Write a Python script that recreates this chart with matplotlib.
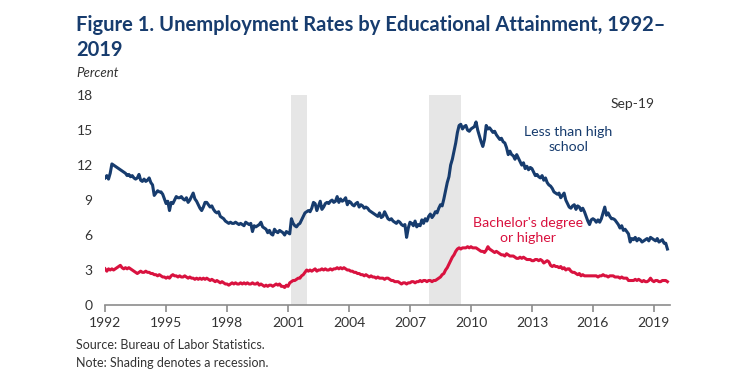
import numpy as np
import matplotlib.pyplot as plt

# monthly unemployment rates (percent), Jan 1992 - Sep 2019
less_than_hs = [
    10.9, 11.1, 10.8, 11.3, 12.1, 12.0, 11.9, 11.8, 11.7, 11.6, 11.5, 11.4,  # 1992
    11.3, 11.1, 11.2, 11.0, 11.1, 10.9, 10.8, 10.9, 11.2, 10.7, 10.6, 10.8,  # 1993
    10.6, 10.7, 10.9, 10.5, 10.3, 9.4, 9.6, 9.8, 9.7, 9.7, 9.5, 9.1,         # 1994
    8.7, 8.9, 8.1, 8.8, 8.7, 9.0, 9.3, 9.2, 9.2, 9.3, 9.1, 9.0,              # 1995
    9.2, 8.8, 9.0, 9.3, 9.6, 9.1, 8.9, 8.6, 8.3, 8.1, 8.4, 8.8,              # 1996
    8.8, 8.6, 8.4, 8.5, 8.2, 8.0, 7.9, 8.0, 7.6, 7.5, 7.4, 7.2,              # 1997
    7.1, 7.0, 7.1, 7.0, 7.0, 7.1, 7.0, 6.9, 7.0, 6.9, 6.8, 7.1,              # 1998
    7.0, 6.9, 7.0, 6.3, 6.8, 6.7, 6.8, 6.9, 7.1, 6.7, 6.6, 6.5,              # 1999
    6.2, 6.4, 6.1, 6.0, 6.5, 6.3, 6.2, 6.4, 6.3, 6.2, 6.0, 6.3,              # 2000
    6.2, 6.1, 7.4, 7.0, 6.8, 6.7, 6.9, 7.0, 7.3, 7.6, 7.9, 8.0,              # 2001
    8.1, 8.0, 8.3, 8.8, 8.7, 8.1, 8.5, 8.9, 8.2, 8.4, 8.7, 8.8,              # 2002
    8.7, 8.9, 9.0, 8.8, 8.9, 9.3, 8.8, 9.1, 8.9, 9.0, 9.2, 8.6,              # 2003
    8.9, 8.8, 8.6, 8.5, 8.7, 8.8, 8.4, 8.6, 8.5, 8.3, 8.4, 8.3,              # 2004
    8.1, 8.0, 7.9, 7.8, 7.7, 7.6, 7.9, 7.5, 7.6, 8.0, 7.7, 7.4,              # 2005
    7.3, 7.4, 7.2, 7.1, 7.0, 7.2, 7.1, 6.9, 6.8, 6.9, 5.8, 6.6,              # 2006
    7.1, 7.0, 6.8, 7.2, 6.7, 6.9, 6.8, 7.3, 7.0, 7.4, 7.2, 7.6,              # 2007
    7.8, 7.5, 7.7, 8.0, 7.9, 8.3, 8.6, 8.5, 9.1, 9.8, 10.5, 11.0,            # 2008
    12.0, 12.5, 13.2, 13.9, 14.8, 15.4, 15.5, 15.1, 15.3, 15.4, 15.0, 14.9,  # 2009
    15.1, 15.2, 15.3, 15.7, 15.0, 14.5, 14.0, 13.6, 14.2, 15.4, 15.1, 15.2,  # 2010
    15.0, 14.8, 14.9, 14.6, 14.4, 14.2, 14.3, 14.0, 13.9, 13.5, 12.9, 13.2,  # 2011
    12.9, 12.8, 12.5, 12.9, 12.6, 12.3, 12.0, 12.2, 11.7, 11.9, 11.6, 11.8,  # 2012
    11.7, 11.4, 11.1, 11.2, 11.0, 10.9, 11.1, 10.7, 10.9, 10.5, 10.3, 10.2,  # 2013
    10.0, 9.7, 9.6, 9.5, 9.6, 9.2, 9.4, 9.6, 9.0, 8.7, 8.4, 8.3,             # 2014
    8.5, 8.6, 8.2, 8.5, 8.4, 8.1, 8.3, 8.0, 7.6, 7.2, 6.9, 7.3,              # 2015
    7.4, 7.3, 7.1, 7.3, 7.1, 7.4, 7.9, 8.4, 7.7, 7.9, 7.6, 7.4,              # 2016
    7.4, 7.3, 7.1, 6.9, 6.6, 6.8, 6.4, 6.5, 6.3, 6.1, 5.4, 5.7,              # 2017
    5.6, 5.8, 5.5, 5.7, 5.6, 5.4, 5.5, 5.6, 5.7, 5.5, 5.8, 5.7,              # 2018
    5.6, 5.5, 5.7, 5.4, 5.5, 5.6, 5.3, 5.3, 4.8,                             # 2019
]

bachelors = [
    3.1, 2.9, 3.1, 3.0, 3.1, 3.0, 3.1, 3.2, 3.3, 3.4, 3.2, 3.1,  # 1992
    3.2, 3.1, 3.2, 3.1, 3.0, 2.9, 2.8, 2.7, 2.8, 2.9, 2.8, 2.8,  # 1993
    2.9, 2.8, 2.8, 2.7, 2.7, 2.6, 2.6, 2.5, 2.6, 2.5, 2.4, 2.4,  # 1994
    2.3, 2.4, 2.3, 2.5, 2.6, 2.5, 2.5, 2.4, 2.5, 2.4, 2.4, 2.5,  # 1995
    2.4, 2.3, 2.4, 2.3, 2.3, 2.2, 2.3, 2.2, 2.3, 2.2, 2.3, 2.2,  # 1996
    2.3, 2.2, 2.1, 2.2, 2.1, 2.0, 2.1, 2.0, 1.9, 2.0, 1.9, 1.8,  # 1997
    1.8, 1.7, 1.8, 1.9, 1.8, 1.9, 1.8, 1.8, 1.9, 1.8, 1.9, 1.8,  # 1998
    1.9, 1.8, 1.8, 1.9, 1.8, 1.8, 1.9, 1.7, 1.8, 1.7, 1.6, 1.7,  # 1999
    1.6, 1.7, 1.7, 1.6, 1.7, 1.8, 1.7, 1.8, 1.6, 1.6, 1.5, 1.7,  # 2000
    1.6, 1.9, 2.0, 2.1, 2.1, 2.2, 2.3, 2.3, 2.5, 2.6, 2.8, 3.0,  # 2001
    2.9, 3.0, 2.9, 3.0, 3.1, 2.9, 3.0, 3.0, 3.1, 3.0, 3.1, 3.0,  # 2002
    3.0, 3.1, 3.0, 3.1, 3.1, 3.2, 3.1, 3.2, 3.1, 3.2, 3.1, 3.0,  # 2003
    3.0, 2.9, 2.9, 2.8, 2.8, 2.7, 2.7, 2.6, 2.6, 2.5, 2.6, 2.5,  # 2004
    2.4, 2.5, 2.4, 2.4, 2.3, 2.4, 2.3, 2.3, 2.3, 2.2, 2.3, 2.3,  # 2005
    2.2, 2.1, 2.1, 2.0, 2.0, 2.0, 1.9, 1.8, 1.9, 1.9, 1.8, 1.9,  # 2006
    1.9, 2.0, 2.0, 1.9, 2.0, 2.0, 2.1, 2.0, 2.1, 2.1, 2.0, 2.1,  # 2007
    2.1, 2.0, 2.1, 2.1, 2.2, 2.3, 2.4, 2.6, 2.7, 3.0, 3.2, 3.5,  # 2008
    3.8, 4.1, 4.3, 4.6, 4.8, 4.9, 4.8, 4.9, 4.9, 4.9, 5.0, 4.9,  # 2009
    5.0, 4.9, 4.9, 4.9, 4.8, 4.7, 4.6, 4.6, 4.5, 4.7, 5.0, 4.8,  # 2010
    4.7, 4.6, 4.5, 4.6, 4.5, 4.4, 4.3, 4.3, 4.2, 4.4, 4.3, 4.2,  # 2011
    4.2, 4.2, 4.1, 4.0, 4.0, 4.1, 4.0, 4.1, 4.0, 3.9, 3.9, 3.9,  # 2012
    3.8, 3.8, 3.9, 3.9, 3.8, 3.9, 3.8, 3.6, 3.7, 3.8, 3.7, 3.4,  # 2013
    3.3, 3.4, 3.3, 3.3, 3.2, 3.3, 3.1, 3.2, 3.0, 3.1, 3.1, 2.9,  # 2014
    2.8, 2.8, 2.7, 2.6, 2.7, 2.5, 2.6, 2.5, 2.5, 2.5, 2.5, 2.5,  # 2015
    2.5, 2.5, 2.5, 2.4, 2.5, 2.5, 2.6, 2.5, 2.5, 2.4, 2.5, 2.5,  # 2016
    2.5, 2.4, 2.4, 2.4, 2.3, 2.4, 2.3, 2.3, 2.3, 2.1, 2.1, 2.1,  # 2017
    2.1, 2.2, 2.1, 2.2, 2.1, 2.0, 2.1, 2.0, 2.0, 2.1, 2.3, 2.1,  # 2018
    2.0, 2.1, 2.1, 2.0, 2.0, 2.1, 2.1, 2.1, 2.0,                 # 2019
]

start_year = 1992
recessions = [(2001 + 2/12, 2001 + 11/12), (2007 + 11/12, 2009 + 6/12)]
year_ticks = list(range(1992, 2020, 3))
y_ticks = [0, 3, 6, 9, 12, 15, 18]

BLUE = "#173c6e"
RED = "#d9123f"
FONT = ["Lato", "DejaVu Sans"]

plt.rcParams['font.family'] = FONT

months = np.arange(len(less_than_hs))
t = start_year + months / 12.0

fig = plt.figure(figsize=(7.3, 3.9), dpi=100)
ax = fig.add_axes([0.144, 0.218, 0.774, 0.538])

for a, b in recessions:
    ax.axvspan(a, b, color="#e6e6e6", lw=0, zorder=0)

ax.plot(t, less_than_hs, color=BLUE, lw=2.2, zorder=3, solid_joinstyle="round")
ax.plot(t, bachelors, color=RED, lw=2.2, zorder=3, solid_joinstyle="round")

ax.set_xlim(1992, 2019.8)
ax.set_ylim(0, 18)
ax.set_xticks(year_ticks)
ax.set_xticklabels([str(y) for y in year_ticks])
ax.set_yticks(y_ticks)

for s in ["top", "right", "left"]:
    ax.spines[s].set_visible(False)
ax.spines["bottom"].set_color("#8c8c8c")
ax.spines["bottom"].set_linewidth(1.2)
ax.tick_params(axis="x", direction="out", length=5, width=1.2, color="#8c8c8c",
               labelsize=10, labelcolor="#333333", pad=4)
ax.tick_params(axis="y", length=0, labelsize=10, labelcolor="#333333", pad=9)

ax.text(2019.05, 17.2, "Sep-19", ha="right", va="center", fontsize=10, color="#333333")
ax.text(2014.8, 14.2, "Less than high\nschool", ha="center", va="center",
        fontsize=10.2, color=BLUE, linespacing=1.3)
ax.text(2012.8, 6.35, "Bachelor's degree\nor higher", ha="center", va="center",
        fontsize=10.2, color=RED, linespacing=1.3)

fig.text(0.104, 0.962, "Figure 1. Unemployment Rates by Educational Attainment, 1992\u2013\n2019",
         ha="left", va="top", fontsize=14.5, fontweight="bold", color=BLUE, linespacing=1.32)
fig.text(0.104, 0.812, "Percent", ha="left", va="center", fontsize=9.5,
         style="italic", color="#333333")
fig.text(0.104, 0.115, "Source: Bureau of Labor Statistics.", ha="left", va="center",
         fontsize=9, color="#333333")
fig.text(0.104, 0.07, "Note: Shading denotes a recession.", ha="left", va="center",
         fontsize=9, color="#333333")

fig.savefig("out.png", dpi=100)
